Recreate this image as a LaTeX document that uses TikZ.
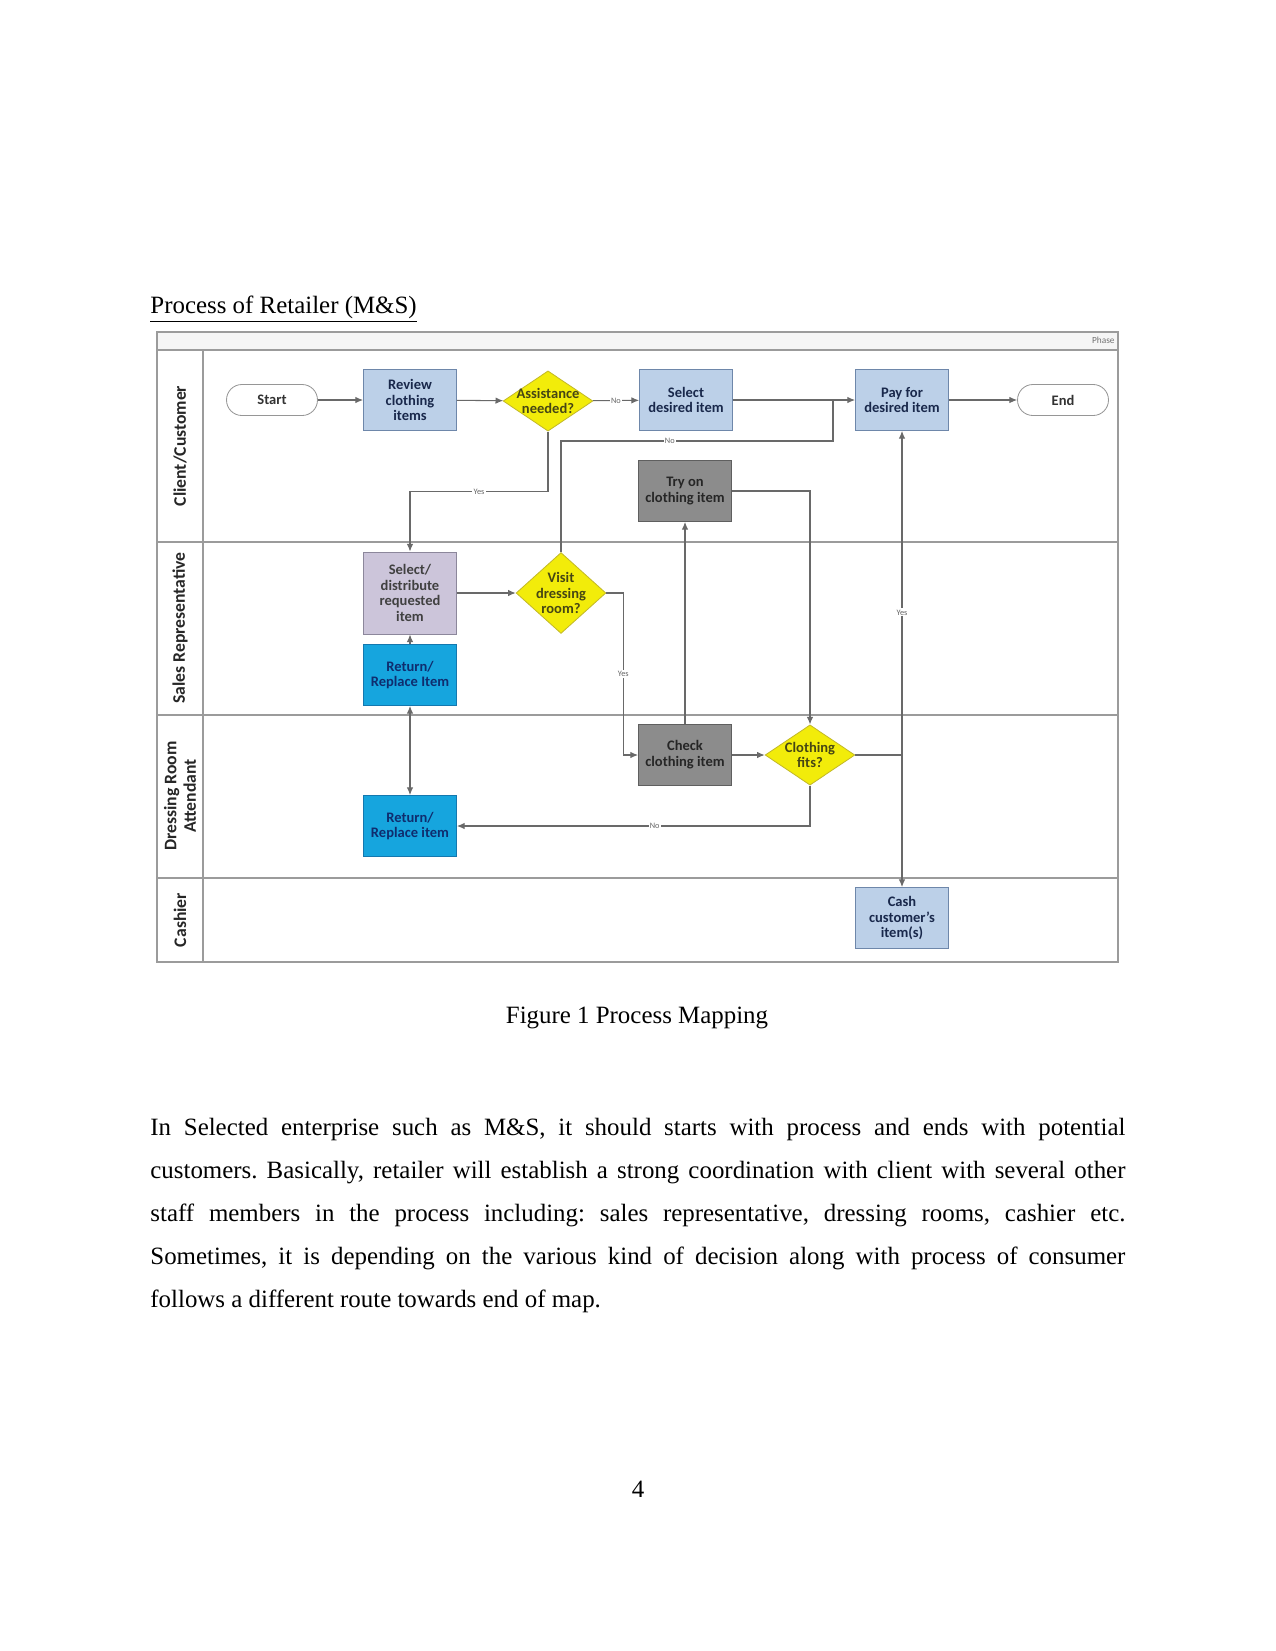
\documentclass[tikz,border=0pt]{standalone}
\usepackage{fontspec}
\setmainfont{Liberation Serif}
\newfontfamily\flowfam{Carlito}
\usepackage{tikz}
\usetikzlibrary{positioning,arrows.meta,calc,shapes.geometric}
\definecolor{pFill}{RGB}{188,208,232}
\definecolor{pLine}{RGB}{110,135,170}
\definecolor{pText}{RGB}{25,40,75}
\definecolor{sFill}{RGB}{204,197,218}
\definecolor{sLine}{RGB}{140,135,155}
\definecolor{rFill}{RGB}{22,165,222}
\definecolor{rLine}{RGB}{20,120,175}
\definecolor{rText}{RGB}{15,45,110}
\definecolor{gFill}{RGB}{140,140,140}
\definecolor{gLine}{RGB}{95,95,95}
\definecolor{yFill}{RGB}{242,236,10}
\definecolor{yLine}{RGB}{195,185,40}
\definecolor{yText}{RGB}{70,70,20}
\definecolor{tLine}{RGB}{150,150,150}
\definecolor{cLine}{RGB}{105,105,105}
\definecolor{lnLine}{RGB}{155,155,155}
\newcommand\flowfont{\flowfam\bfseries\fontsize{7}{7.6}\selectfont}
\tikzset{
  proc/.style={rectangle, draw=pLine, fill=pFill, text=pText, minimum width=15.75mm,
               minimum height=10.33mm, inner sep=1pt, align=center, font=\flowfont},
  dist/.style={proc, draw=sLine, fill=sFill, text=black!75, minimum height=13.9mm},
  ret/.style={proc, draw=rLine, fill=rFill, text=rText},
  gbox/.style={proc, draw=gLine, fill=gFill, text=black!85},
  dec/.style={diamond, aspect=1.5, draw=yLine, fill=yFill, text=yText, minimum width=15.2mm,
              minimum height=10.2mm, inner sep=-0.45mm, align=center, font=\flowfont},
  term/.style={rectangle, rounded corners=2.6mm, draw=tLine, fill=white, text=black!80,
               minimum width=15.4mm, minimum height=5.25mm, font=\flowfont},
  flow/.style={-{Latex[length=1.3mm,width=1.1mm]}, draw=cLine, line width=0.5pt},
  conn/.style={draw=cLine, line width=0.5pt},
  biflow/.style={{Latex[length=1.3mm,width=1.1mm]}-{Latex[length=1.3mm,width=1.1mm]},
                 draw=cLine, line width=0.5pt},
  lbl/.style={font=\flowfam\fontsize{4}{4}\selectfont, text=black!60, fill=white, inner sep=0.6pt},
  lane/.style={draw=lnLine, line width=0.6pt},
  lanelbl/.style={rotate=90, align=center, text=black!85,
                  font=\flowfam\bfseries\fontsize{8.5}{9.5}\selectfont},
  ptxt/.style={inner sep=0pt, font=\fontsize{12}{14}\selectfont},
  para/.style={inner sep=0pt, text width=6.5in, align=justify,
               font=\fontsize{12}{20.75}\selectfont\frenchspacing},
}

\begin{document}
\begin{tikzpicture}[x=0.169333mm, y=-0.169333mm, every edge/.style={flow}]
  \useasboundingbox (0,0) rectangle (1275,1651);
  % page text
  \node[ptxt, anchor=base west] (title) at (150,313) {\underline{Process of Retailer (M\&S)}};
  % swimlanes
  \fill[black!4] (157,332) rectangle (1118,350);
  \draw[lane] (157,332) rectangle (1118,962);
  \draw[lane] (157,350) -- (1118,350);
  \draw[lane] (157,542) -- (1118,542);
  \draw[lane] (157,715) -- (1118,715);
  \draw[lane] (157,878) -- (1118,878);
  \draw[lane] (203,350) -- (203,962);
  \node[anchor=east, inner sep=0pt, text=black!55, font=\flowfam\fontsize{4.5}{5}\selectfont]
    (phase) at (1115,340) {Phase};
  \node[lanelbl] (lcli) at (180,446) {Client/Customer};
  \node[lanelbl] (lsal) at (180,628) {Sales Representative};
  \node[lanelbl] (ldre) at (180,796) {Dressing Room\\Attendant};
  \node[lanelbl] (lcas) at (180,920) {Cashier};
  % steps
  \node[term] (start) at (272,400) {Start};
  \node[proc] (review) at (410,400) {Review\\clothing\\items};
  \node[dec]  (assist) at (548,401) {Assistance\\needed?};
  \node[proc] (select) at (686,400) {Select\\desired item};
  \node[proc] (pay) at (902,400) {Pay for\\desired item};
  \node[term] (end) at (1063,400) {End};
  \node[gbox] (tryon) at (685,491) {Try on\\clothing item};
  \node[dist] (distrib) at (410,593) {Select/\\distribute\\requested\\item};
  \node[dec, aspect=1.1, minimum height=13.7mm] (visit) at (561,593) {Visit\\dressing\\room?};
  \node[ret]  (retsr) at (410,675) {Return/\\Replace Item};
  \node[gbox] (check) at (685,755) {Check\\clothing item};
  \node[dec]  (fits) at (810,755) {Clothing\\fits?};
  \node[ret]  (retdr) at (410,826) {Return/\\Replace item};
  \node[proc] (cash) at (902,918) {Cash\\customer’s\\item(s)};
  \coordinate (jn) at (833,400);
  \coordinate (vno) at (833,441);
  \coordinate (yj) at (902,755);
  % connectors
  \draw (start) edge (review);
  \draw (review) edge (assist);
  \draw (assist) edge node[lbl]{No} (select);
  \draw (select) edge (pay);
  \draw (pay) edge (end);
  \draw[conn] (visit.north) |- node[lbl,pos=0.7]{No} (vno) -- (jn);
  \draw[flow] (assist.south) -- ++(0,60) -| node[lbl,pos=0.25]{Yes} (distrib.north);
  \draw (distrib) edge (visit);
  \draw[flow] (visit.east) -- ++(17,0) |- node[lbl,pos=0.25]{Yes} (check.west);
  \draw (check) edge (tryon);
  \draw[flow] (tryon.east) -| (fits.north);
  \draw (check) edge (fits);
  \draw[flow] (fits.south) |- node[lbl,pos=0.72]{No} (retdr.east);
  \draw[conn] (fits.east) -- (yj);
  \draw[flow] (yj) -- node[lbl,pos=0.44]{Yes} (pay.south);
  \draw[flow] (yj) -- (cash.north);
  \draw (retsr) edge (distrib);
  \draw[biflow] (retsr) -- (retdr);
  % caption and body
  \node[ptxt, anchor=base] (caption) at (637,1023) {Figure 1 Process Mapping};
  \node[para, anchor=base west] (body) at (150,1135) {In Selected enterprise such as M\&S, it
    should starts with process and ends with potential\linebreak customers. Basically, retailer
    will establish a strong coordination with client with several other\linebreak staff members in
    the process including: sales representative, dressing rooms, cashier etc.\linebreak Sometimes,
    it is depending on the various kind of decision along with process of consumer\linebreak follows
    a different route towards end of map.};
  \node[ptxt, anchor=base] (pageno) at (638,1497) {4};
\end{tikzpicture}
\end{document}
